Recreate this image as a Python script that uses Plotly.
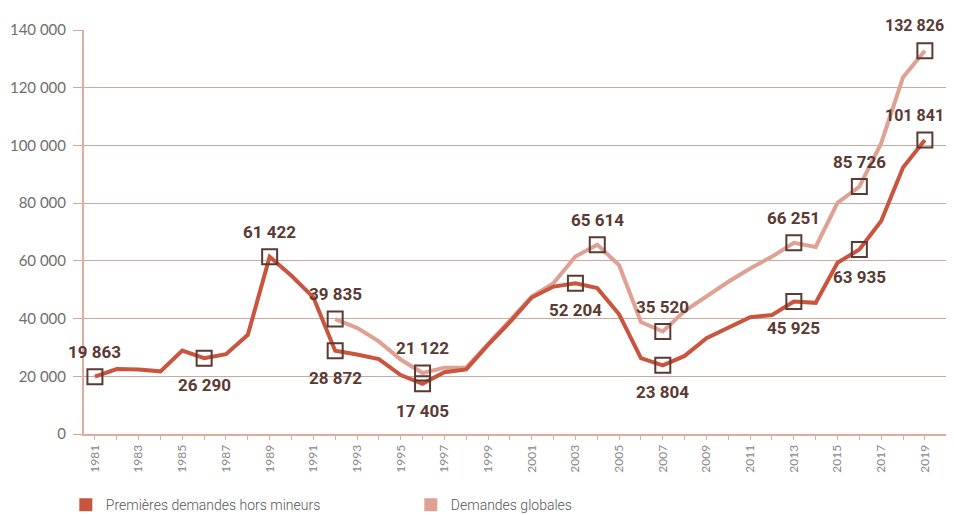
import plotly.graph_objects as go

years = list(range(1981, 2020))

premieres = [19863, 22505, 22350, 21714, 28925, 26290, 27672, 34352, 61422, 54813,
             47380, 28872, 27564, 25964, 20415, 17405, 21416, 22375, 30907, 38747,
             47291, 51087, 52204, 50547, 41500, 26269, 23804, 27063, 33235, 36931,
             40464, 41254, 45925, 45454, 59335, 63935, 73802, 92338, 101841]

globales = [None, None, None, None, None, None, None, None, None, None,
            None, 39835, 36800, 32100, 25800, 21122, 23000, 23000, 31200, 39000,
            47600, 52300, 61500, 65614, 58500, 38800, 35520, 42599, 47686, 52762,
            57337, 61468, 66251, 64811, 80075, 85726, 100755, 123625, 132826]

label_years_p = [1981, 1986, 1989, 1992, 1996, 2003, 2007, 2013, 2016, 2019]
label_vals_p = [19863, 26290, 61422, 28872, 17405, 52204, 23804, 45925, 63935, 101841]
label_pos_p = ["above", "below", "above", "below", "below", "below", "below", "below", "below", "above"]

label_years_g = [1992, 1996, 2004, 2007, 2013, 2016, 2019]
label_vals_g = [39835, 21122, 65614, 35520, 66251, 85726, 132826]
label_pos_g = ["above", "above", "above", "above", "above", "above", "above"]

x_tick_labels = [str(y) if (y - 1981) % 2 == 0 else "" for y in years]
y_ticks = [0, 20000, 40000, 60000, 80000, 100000, 120000, 140000]

DARK = "#c9553f"
LIGHT = "#dfa193"
BROWN = "#5a3a32"
GRID = "#c7aaa2"
AXIS = "#e3a99a"

fig = go.Figure()

fig.add_trace(go.Scatter(x=years, y=globales, mode="lines", line=dict(color=LIGHT, width=4),
                         showlegend=False, hoverinfo="skip"))
fig.add_trace(go.Scatter(x=years, y=premieres, mode="lines", line=dict(color=DARK, width=4),
                         showlegend=False, hoverinfo="skip"))

fig.add_trace(go.Scatter(x=label_years_g + label_years_p, y=label_vals_g + label_vals_p,
                         mode="markers",
                         marker=dict(symbol="square-open", size=15, color=BROWN,
                                     line=dict(color=BROWN, width=2)),
                         showlegend=False, hoverinfo="skip"))

# legend-only entries
fig.add_trace(go.Scatter(x=[None], y=[None], mode="markers", name="Premières demandes hors mineurs",
                         marker=dict(symbol="square", size=13, color=DARK)))
fig.add_trace(go.Scatter(x=[None], y=[None], mode="markers", name="Demandes globales",
                         marker=dict(symbol="square", size=13, color=LIGHT)))


def fmt(v):
    return f"{v:,}".replace(",", " ")


for xs, vs, ps in [(label_years_p, label_vals_p, label_pos_p), (label_years_g, label_vals_g, label_pos_g)]:
    for x, v, p in zip(xs, vs, ps):
        fig.add_annotation(x=x, y=v, text=fmt(v), showarrow=False,
                           yshift=25 if p == "above" else -27,
                           xshift=-10 if x == years[-1] else 0,
                           font=dict(family="Roboto, sans-serif",
                                     size=17 if x != years[-1] else 16, color=BROWN, weight="bold"))

fig.update_layout(
    width=946, height=507,
    margin=dict(l=76, r=4, t=22, b=81, autoexpand=False),
    paper_bgcolor="white", plot_bgcolor="white",
    separators=", ",
    legend=dict(orientation="h", x=-0.021, y=-0.176, xanchor="left", yanchor="middle",
                font=dict(family="Roboto, sans-serif", size=14, color="#555555", weight=300),
                itemwidth=30, entrywidth=300, entrywidthmode="pixels",
                bgcolor="rgba(0,0,0,0)"),
)

fig.update_xaxes(range=[1980.5, 2020.15], tickvals=years, ticktext=x_tick_labels,
                 tickangle=-90, ticks="outside", ticklen=4, tickcolor=AXIS,
                 showgrid=False, zeroline=False, showline=True, linecolor=AXIS, linewidth=2,
                 automargin=False,
                 tickfont=dict(family="Lato, sans-serif", size=12, color="#888888"))

fig.update_yaxes(range=[0, 140000], tickvals=y_ticks, tickformat=",d",
                 ticks="outside", ticklen=9, tickcolor=GRID, ticklabelstandoff=4,
                 showgrid=True, gridcolor=GRID, gridwidth=1, zeroline=False,
                 showline=True, linecolor=AXIS, linewidth=2,
                 automargin=False,
                 tickfont=dict(family="Lato, sans-serif", size=15, color="#6e6e6e"))

fig.write_html("out.html")
